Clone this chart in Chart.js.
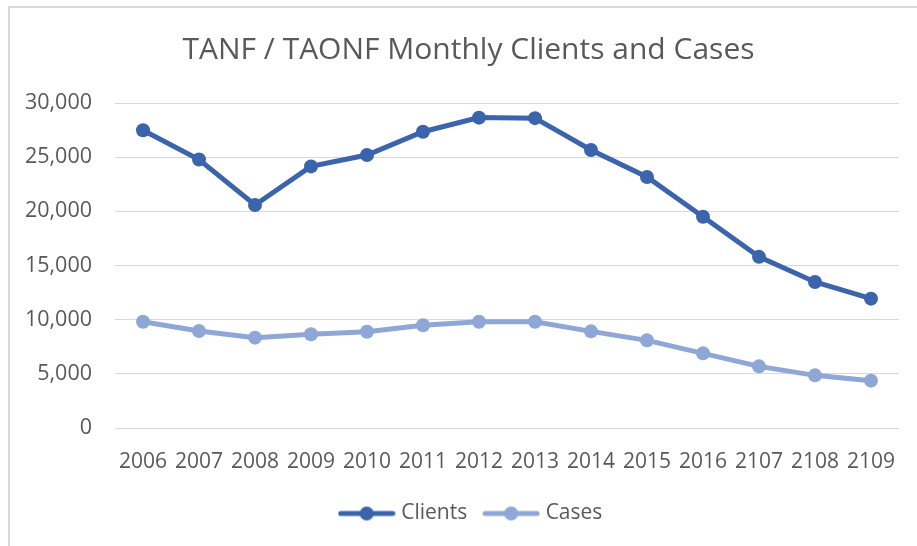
<!DOCTYPE html>
<html>
<head>
<meta charset="utf-8">
<script src="https://cdn.jsdelivr.net/npm/chart.js@4.4.1/dist/chart.umd.min.js"></script>
<style>
  html, body { margin: 0; padding: 0; background: #fff; overflow: hidden; }
  #frame {
    position: absolute; left: 8px; top: 6px; width: 1000px; height: 600px;
    border-top: 2px solid #d9d9d9; border-left: 2px solid #d9d9d9;
  }
  #wrap { position: absolute; left: 0; top: 0; width: 917px; height: 546px; }
</style>
</head>
<body>
<div id="frame"></div>
<div id="wrap"><canvas id="chart"></canvas></div>
<script>
// ── Datos ───────────────────────────────────────────────────────────
const years   = ['2006','2007','2008','2009','2010','2011','2012','2013','2014','2015','2016','2107','2108','2109'];
const clients = [27480, 24780, 20590, 24150, 25200, 27350, 28650, 28600, 25660, 23170, 19500, 15800, 13480, 11940];
const cases   = [9810, 8950, 8340, 8650, 8890, 9480, 9810, 9810, 8920, 8090, 6890, 5690, 4860, 4370];
const yTicks  = [0, 5000, 10000, 15000, 20000, 25000, 30000];

const dark  = '#3b64ad';
const light = '#8fa7d6';
const FONT  = "'Open Sans', sans-serif";

// icono de leyenda: línea con punto al centro (estilo Excel)
function legendIcon(color) {
    const c = document.createElement('canvas');
    c.width = 58; c.height = 16;
    const g = c.getContext('2d');
    g.strokeStyle = color;
    g.lineWidth = 5;
    g.lineCap = 'round';
    g.beginPath();
    g.moveTo(3, 8); g.lineTo(55, 8);
    g.stroke();
    g.fillStyle = color;
    g.beginPath();
    g.arc(29, 8, 7, 0, Math.PI * 2);
    g.fill();
    return c;
}

// el título y la leyenda del original están centrados en todo el marco,
// no sólo en el área del canvas: los corremos un poco a la derecha
const shiftBlocks = {
    id: 'shiftBlocks',
    afterLayout(chart) {
        const moves = [[chart.titleBlock, 19], [chart.legend, 23]];
        moves.forEach(([b, dx]) => {
            if (!b) return;
            b.left += dx;
            b.right += dx;
        });
    }
};

const ctx = document.getElementById('chart').getContext('2d');

new Chart(ctx, {
    type: 'line',
    data: {
        labels: years,
        datasets: [
            {
                label: 'Clients', data: clients,
                borderColor: dark, backgroundColor: dark,
                pointBackgroundColor: dark, pointBorderColor: dark,
                borderWidth: 5, pointRadius: 7, pointBorderWidth: 0, tension: 0
            },
            {
                label: 'Cases', data: cases,
                borderColor: light, backgroundColor: light,
                pointBackgroundColor: light, pointBorderColor: light,
                borderWidth: 5, pointRadius: 7, pointBorderWidth: 0, tension: 0
            }
        ]
    },
    plugins: [shiftBlocks],
    options: {
        responsive: true,
        maintainAspectRatio: false,
        animation: false,
        layout: { padding: { left: 0, right: 18, top: 0, bottom: 12 } },
        plugins: {
            title: {
                display: true,
                text: 'TANF / TAONF Monthly Clients and Cases',
                color: '#595959',
                font: { family: FONT, size: 30, weight: 'normal' },
                padding: { top: 32, bottom: 35 }
            },
            legend: {
                position: 'bottom',
                labels: {
                    color: '#595959',
                    font: { family: FONT, size: 21 },
                    usePointStyle: true,
                    pointStyleWidth: 48,
                    padding: 20,
                    generateLabels: (chart) => chart.data.datasets.map((ds, i) => ({
                        text: ds.label,
                        fontColor: '#595959',
                        pointStyle: legendIcon(ds.borderColor),
                        datasetIndex: i,
                        hidden: false,
                        lineWidth: 0
                    }))
                }
            },
            tooltip: { enabled: false }
        },
        scales: {
            x: {
                offset: true,
                afterFit: (s) => { s.height = 55; },
                grid: { display: false },
                border: { display: false },
                ticks: {
                    color: '#595959', font: { family: FONT, size: 21 },
                    maxRotation: 0, autoSkip: false, padding: 13
                }
            },
            y: {
                min: 0, max: 30000,
                afterFit: (s) => { s.width = 115; },
                afterBuildTicks: (s) => { s.ticks = yTicks.map(v => ({ value: v })); },
                grid: { color: '#d9d9d9', lineWidth: 1, drawTicks: false },
                border: { display: false },
                ticks: {
                    color: '#595959', font: { family: FONT, size: 21.5 }, padding: 23,
                    callback: (v) => v.toLocaleString('en-US')
                }
            }
        }
    }
});
</script>
</body>
</html>
